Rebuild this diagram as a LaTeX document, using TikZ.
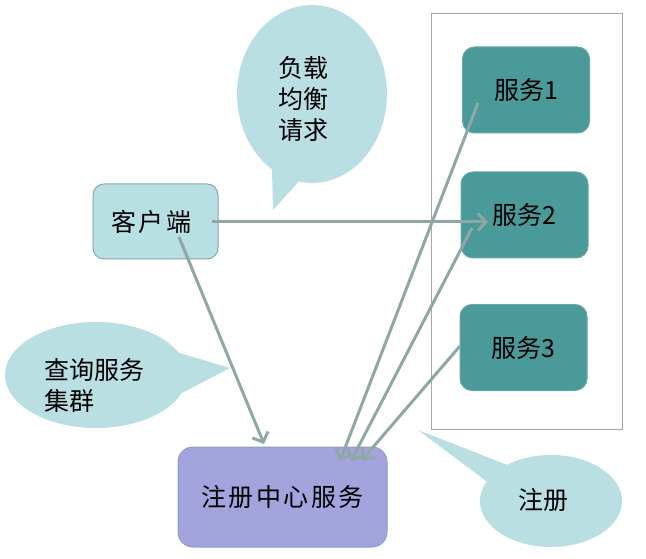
\documentclass[tikz,border=0pt]{standalone}
\usepackage{fontspec}
\setmainfont{Noto Sans CJK SC}
\newfontfamily\cjksp[LetterSpace=10]{Noto Sans CJK SC}
\usetikzlibrary{arrows.meta,shapes.geometric}
\definecolor{bubfill}{HTML}{B9DFE2}
\definecolor{clifill}{HTML}{B8DFE2}
\definecolor{cliborder}{HTML}{86A8AB}
\definecolor{svcfill}{HTML}{4A9A9A}
\definecolor{svcborder}{HTML}{6AA6A6}
\definecolor{regfill}{HTML}{A3A3DD}
\definecolor{regborder}{HTML}{8E9EC2}
\definecolor{frameborder}{HTML}{A6A6A6}
\definecolor{arr}{HTML}{8FA7A5}
\begin{document}
\begin{tikzpicture}[x=1pt,y=-1pt,
  txt/.style={font=\fontsize{25}{31}\selectfont, text=black, inner sep=0pt},
  svcbox/.style={rectangle, rounded corners=12pt, fill=svcfill, draw=svcborder, line width=1pt,
     minimum width=127pt, minimum height=86pt, txt},
  clibox/.style={rectangle, rounded corners=11pt, fill=clifill, draw=cliborder, line width=1pt,
     minimum width=125pt, minimum height=75pt, txt},
  regbox/.style={rectangle, rounded corners=15pt, fill=regfill, draw=regborder, line width=1pt,
     minimum width=209pt, minimum height=100pt, txt},
  bubble/.style={ellipse, fill=bubfill, inner sep=0pt},
  conn/.style={draw=arr, line width=3pt, -{Straight Barb[length=8pt,width=17pt,line width=3pt]}},
]
\useasboundingbox (0,0) rectangle (646,559);

% frame around services
\draw[frameborder, line width=1pt] (431,14) rectangle (622,429);

% speech bubbles
\node[bubble, minimum width=150pt, minimum height=178pt] (lbE) at (312,94) {};
\fill[bubfill] (272,170) -- (273,210) -- (302,178) -- cycle;
\node[txt, align=left] (lbT) at (303,99) {负载\\均衡\\请求};

\node[bubble, minimum width=182pt, minimum height=106pt] (qE) at (96,375) {};
\fill[bubfill] (176,352) -- (230,368) -- (180,394) -- cycle;
\node[txt, align=left, anchor=west] (qT) at (44,385) {查询服务\\集群};

\node[bubble, minimum width=142pt, minimum height=92pt] (rE) at (551,501) {};
\fill[bubfill] (418,430) -- (510,466) -- (490,484) -- cycle;
\node[txt] (rT) at (543,500) {注册};

% boxes
\node[svcbox] (s1) at (526,90) {服务1};
\node[svcbox] (s2) at (524.5,215) {服务2};
\node[svcbox] (s3) at (523.5,347.5) {服务3};
\node[clibox] (cli) at (155.5,221.5) {\hspace*{-8pt}{\cjksp 客户端}};
\node[regbox] (reg) at (282.5,497) {{\cjksp 注册中心服务}};

% connector endpoints
\coordinate (c1) at (212,222);
\coordinate (c2) at (179,237);
\coordinate (t2) at (488,222);
\coordinate (tr0) at (264,444);
\coordinate (p1) at (478,103);
\coordinate (p2) at (472,228);
\coordinate (p3) at (460,346);
\coordinate (tr1) at (340,461);
\coordinate (tr2) at (351,461);
\coordinate (tr3) at (362,460);

\draw[conn] (c1) -- (t2);
\draw[conn] (c2) -- (tr0);
\draw[conn] (p1) -- (tr1);
\draw[conn] (p2) -- (tr2);
\draw[conn] (p3) -- (tr3);
\end{tikzpicture}
\end{document}
